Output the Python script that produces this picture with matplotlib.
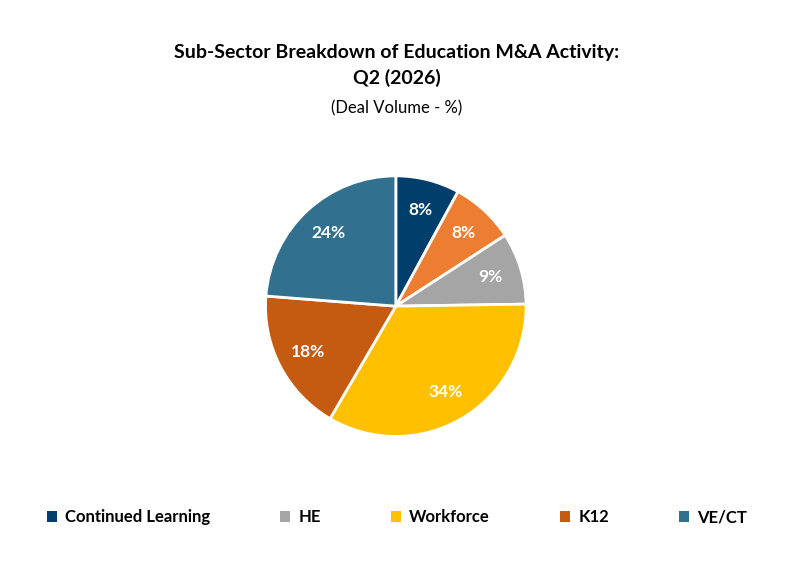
import matplotlib
matplotlib.use("Agg")
import matplotlib.pyplot as plt
from matplotlib.patches import Patch

labels = ["Continued Learning", "Other", "HE", "Workforce", "K12", "VE/CT"]
values = [8, 8, 9, 34, 18, 24]
colors = ["#003f6b", "#ed7d31", "#a5a5a5", "#ffc000", "#c55a11", "#31708f"]
legend_idx = [0, 2, 3, 4, 5]

plt.rcParams['font.family'] = ['Lato', 'DejaVu Sans']
fig = plt.figure(figsize=(7.94, 5.68), dpi=100)
ax = fig.add_axes([0.331, 0.227, 0.335, 0.468])
wedges, texts = ax.pie(values, colors=colors, startangle=90, counterclock=False,
                       wedgeprops=dict(edgecolor="white", linewidth=2))
import numpy as np
for w, v in zip(wedges, values):
    ang = np.deg2rad((w.theta1 + w.theta2) / 2)
    ax.text(0.76 * np.cos(ang), 0.76 * np.sin(ang), f"{v}%", ha="center", va="center",
            color="white", fontsize=12.5, fontweight="bold")
ax.set_aspect("equal")
ax.set_xlim(-1.02, 1.02); ax.set_ylim(-1.02, 1.02)

fig.text(0.5, 0.908, "Sub-Sector Breakdown of Education M&A Activity:", ha="center", va="center",
         fontsize=14, fontweight="bold")
fig.text(0.5, 0.862, "Q2 (2026)", ha="center", va="center", fontsize=14, fontweight="bold")
fig.text(0.5, 0.81, "(Deal Volume - %)", ha="center", va="center", fontsize=12)

handles = [Patch(facecolor=colors[i], label=labels[i]) for i in legend_idx]
leg = fig.legend(handles=handles, ncol=5, loc="center", bbox_to_anchor=(0.5, 0.089),
                 frameon=False, fontsize=12, handlelength=0.6, handleheight=0.6,
                 columnspacing=4.2, handletextpad=0.5)
for t in leg.get_texts():
    t.set_fontweight("bold")
fig.savefig("out.png", dpi=100, facecolor="white")
